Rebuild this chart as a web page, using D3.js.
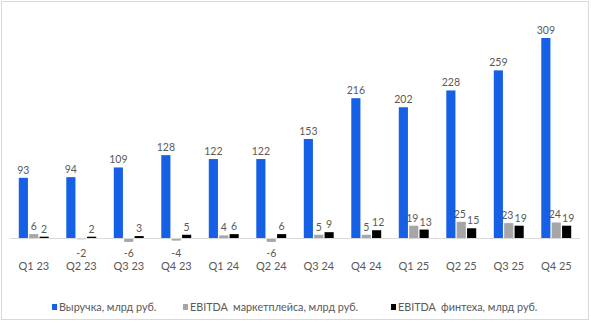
<!DOCTYPE html>
<html>
<head>
<meta charset="utf-8">
<script src="https://cdn.jsdelivr.net/npm/d3@7"></script>
<style>
  body { margin: 0; background: #fff; }
  text { font-family: Lato, sans-serif; fill: #595959; }
</style>
</head>
<body>
<div id="chart"></div>
<script>
// data
var quarters = ["Q1 23", "Q2 23", "Q3 23", "Q4 23", "Q1 24", "Q2 24", "Q3 24", "Q4 24", "Q1 25", "Q2 25", "Q3 25", "Q4 25"];
var revenue = [93, 94, 109, 128, 122, 122, 153, 216, 202, 228, 259, 309];
var ebitdaMarket = [6, -2, -6, -4, 4, -6, 5, 5, 19, 25, 23, 24];
var ebitdaFintech = [2, 2, 3, 5, 6, 6, 9, 12, 13, 15, 19, 19];
var seriesNames = ["Выручка, млрд руб.", "EBITDA  маркетплейса, млрд руб.", "EBITDA  финтеха, млрд руб."];
var colors = ["#1560e6", "#a6a6a6", "#000000"];

var W = 591, H = 323;

var svg = d3.select("#chart").append("svg")
    .attr("width", W)
    .attr("height", H);

// frame
svg.append("rect")
    .attr("x", 1.5).attr("y", 1.5)
    .attr("width", 587).attr("height", 318)
    .attr("fill", "none")
    .attr("stroke", "#d9d9d9");

var xScale = d3.scaleBand()
    .domain(quarters)
    .range([10, 580])
    .paddingInner(0.37)
    .paddingOuter(0.185);

var xSub = d3.scaleBand()
    .domain([0, 1, 2])
    .range([0, xScale.bandwidth()])
    .paddingInner(0.12);

var yScale = d3.scaleLinear()
    .domain([0, 309])
    .range([238, 38]);

var series = [revenue, ebitdaMarket, ebitdaFintech];

var rows = [];
quarters.forEach(function (q, i) {
    series.forEach(function (s, j) {
        rows.push({ q: q, s: j, v: s[i] });
    });
});

var g = svg.append("g");

g.selectAll("rect.bar")
    .data(rows)
    .enter()
    .append("rect")
    .attr("class", "bar")
    .attr("x", function (d) { return xScale(d.q) + xSub(d.s); })
    .attr("width", xSub.bandwidth())
    .attr("y", function (d) { return Math.min(yScale(d.v), yScale(0)); })
    .attr("height", function (d) { return Math.abs(yScale(d.v) - yScale(0)); })
    .attr("fill", function (d) { return colors[d.s]; });

// zero line
svg.append("line")
    .attr("x1", 10).attr("x2", 580)
    .attr("y1", yScale(0) + 0.5).attr("y2", yScale(0) + 0.5)
    .attr("stroke", "#d9d9d9");

// value labels (two-digit ebitda labels pushed apart a little)
g.selectAll("text.val")
    .data(rows)
    .enter()
    .append("text")
    .attr("class", "val")
    .attr("x", function (d) {
        var shift = 0;
        if (d.s > 0 && d.v >= 10) shift = d.s == 1 ? -1.5 : 1.5;
        return xScale(d.q) + xSub(d.s) + xSub.bandwidth() / 2 + shift;
    })
    .attr("y", function (d) { return d.v < 0 ? yScale(0) + 19 : yScale(d.v) - 4; })
    .attr("text-anchor", "middle")
    .style("font-size", "10.5px")
    .text(function (d) { return d.v; });

// x axis labels
var xAxis = d3.axisBottom(xScale).tickSize(0).tickPadding(0);
var ax = svg.append("g")
    .attr("transform", "translate(0,262)")
    .call(xAxis);
ax.select(".domain").remove();
ax.selectAll("text")
    .attr("dy", "0.71em")
    .style("font-size", "11px")
    .style("font-family", "Lato, sans-serif")
    .attr("fill", "#595959");

// legend
var legendX = [52, 183, 391];
var legend = svg.append("g").selectAll("g")
    .data(seriesNames)
    .enter()
    .append("g")
    .attr("transform", function (d, i) { return "translate(" + legendX[i] + ",307)"; });

legend.append("rect")
    .attr("x", 0).attr("y", -3)
    .attr("width", 5).attr("height", 6)
    .attr("fill", function (d, i) { return colors[i]; });

legend.append("text")
    .attr("x", 7)
    .attr("y", 4)
    .style("font-size", "10.8px")
    .style("white-space", "pre")
    .text(function (d) { return d; });
</script>
</body>
</html>
